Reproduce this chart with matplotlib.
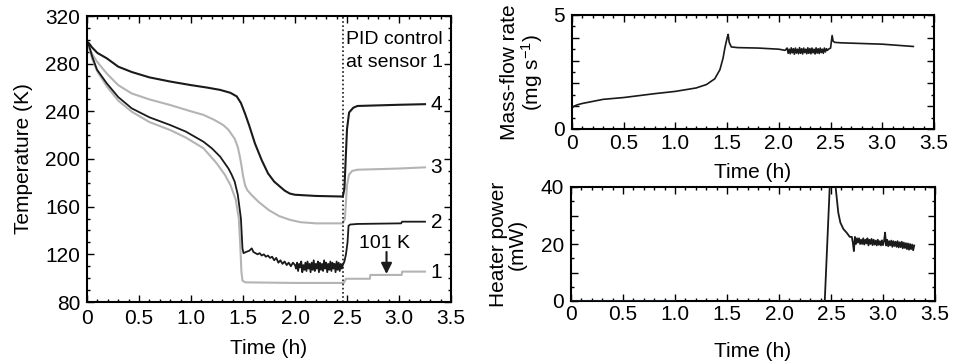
import matplotlib
matplotlib.use("Agg")
from matplotlib import pyplot as plt
from matplotlib.ticker import MultipleLocator, FuncFormatter

plt.rcParams['font.family'] = ['Liberation Sans', 'DejaVu Sans']
plt.rcParams['mathtext.default'] = 'regular'

# --- temperature curves (sensors 1..4), time in h, temperature in K ---
t4 = [0, 0.02, 0.05, 0.1, 0.19, 0.3, 0.43, 0.6, 0.8, 1.0, 1.15, 1.28, 1.38, 1.44,
      1.48, 1.52, 1.56, 1.615, 1.68, 1.74, 1.8, 1.84, 1.9, 1.95, 2.0, 2.2, 2.46,
      2.475, 2.49, 2.5, 2.52, 2.56, 2.6, 3.0, 3.25]
T4 = [298.5, 297, 293.5, 289, 284.5, 277.5, 273, 268.5, 265, 262, 260, 258, 255.5, 252.5,
      247, 238, 228, 213, 199, 188, 181, 178, 173.5, 171, 170, 169, 168.5,
      175, 205, 225, 239, 243, 244.5, 245.5, 246]

t3 = [0, 0.02, 0.05, 0.096, 0.19, 0.3, 0.43, 0.6, 0.8, 1.0, 1.12, 1.22, 1.31, 1.36,
      1.42, 1.45, 1.47, 1.49, 1.5, 1.52, 1.54, 1.58, 1.65, 1.75, 1.85, 1.95, 2.05,
      2.2, 2.46, 2.48, 2.5, 2.52, 2.55, 2.6, 3.0, 3.25]
T3 = [297, 294, 288, 281.7, 271.7, 262, 255, 250, 245.3, 240, 237, 233, 228.5, 224.5,
      217, 210, 202, 192, 186, 178, 174, 170, 164, 157, 152, 149, 147,
      146, 146, 150, 178, 187, 190, 191, 192, 193]

t2 = [0, 0.02, 0.05, 0.096, 0.19, 0.3, 0.43, 0.6, 0.8, 0.95, 1.12, 1.2, 1.28, 1.36,
      1.39, 1.42, 1.45, 1.48, 1.495, 1.505, 1.53, 1.56, 1.584, 1.60,
      1.62, 1.64, 1.66, 1.68, 1.70, 1.72, 1.74, 1.76, 1.78, 1.80, 1.82, 1.84, 1.86,
      1.88, 1.90, 1.92, 1.94, 1.96, 1.98,
      2.00, 2.01, 2.02, 2.03, 2.04, 2.05, 2.06, 2.07, 2.08, 2.09, 2.10, 2.11, 2.12,
      2.13, 2.14, 2.15, 2.16, 2.17, 2.18, 2.19, 2.20, 2.21, 2.22, 2.23, 2.24, 2.25,
      2.26, 2.27, 2.28, 2.29, 2.30, 2.31, 2.32, 2.33, 2.34, 2.35, 2.36, 2.37, 2.38,
      2.39, 2.40, 2.41, 2.42, 2.43, 2.44, 2.45, 2.46,
      2.475, 2.49, 2.505, 2.515, 2.53, 2.6, 3.02, 3.03, 3.25]
T2 = [298, 295, 286, 275, 263.5, 252, 242.5, 235, 228.5, 223, 214.5, 209, 202, 192,
      187, 181, 170, 150, 125, 121, 122, 123, 125, 122,
      121, 120, 121, 119, 120, 118, 119, 117, 118, 115, 117, 113, 115,
      112, 114, 111, 113, 110, 113,
      111, 108, 113, 106, 112, 109, 114, 105, 111, 107, 113, 106, 114,
      108, 112, 105, 113, 107, 115, 106, 112, 108, 114, 105, 113, 107,
      112, 106, 115, 108, 113, 105, 112, 107, 114, 106, 113, 108, 112,
      105, 114, 107, 113, 106, 112, 108, 111,
      114, 120, 130, 144, 145, 145.5, 146, 147.4, 147.4]

t1 = [0, 0.02, 0.05, 0.096, 0.19, 0.3, 0.43, 0.6, 0.8, 0.95, 1.12, 1.247, 1.327,
      1.38, 1.43, 1.46, 1.475, 1.485, 1.495, 1.52, 2.0, 2.47, 2.49, 2.72, 2.725,
      3.026, 3.03, 3.25]
T1 = [296, 293, 284, 274, 261, 249, 239.7, 231, 224.3, 218, 209, 196.4, 186.6,
      178, 166, 150, 125, 105, 98, 96.5, 96, 96, 99.5, 99.5, 102.7,
      102.7, 105.5, 105.5]

curve_labels = ['4', '3', '2', '1']
label_temps = [246, 193, 147, 105]

# --- mass-flow rate, mg/s ---
tm = [0, 0.02, 0.05, 0.1, 0.3, 0.5, 0.8, 1.0, 1.2, 1.3, 1.38, 1.43, 1.46, 1.48, 1.5,
      1.51, 1.52, 1.54, 1.6, 1.8, 2.0, 2.06,
      2.08, 2.09, 2.10, 2.11, 2.12, 2.13, 2.14, 2.15, 2.16, 2.17, 2.18, 2.19, 2.20,
      2.21, 2.22, 2.23, 2.24, 2.25, 2.26, 2.27, 2.28, 2.29, 2.30, 2.31, 2.32, 2.33,
      2.34, 2.35, 2.36, 2.37, 2.38, 2.39, 2.40, 2.41, 2.42, 2.43, 2.44, 2.45, 2.46,
      2.47, 2.48,
      2.5, 2.515, 2.525, 2.54, 2.6, 3.0, 3.3]
mf = [0.92, 1.0, 1.06, 1.12, 1.3, 1.38, 1.55, 1.65, 1.8, 1.95, 2.2, 2.6, 3.1, 3.6, 4.0,
      4.15, 3.8, 3.6, 3.57, 3.55, 3.5, 3.45,
      3.55, 3.32, 3.5, 3.3, 3.56, 3.34, 3.52, 3.28, 3.55, 3.33, 3.5, 3.3, 3.57,
      3.32, 3.52, 3.29, 3.55, 3.35, 3.5, 3.3, 3.56, 3.32, 3.53, 3.3, 3.55, 3.34,
      3.5, 3.29, 3.56, 3.33, 3.52, 3.31, 3.55, 3.35, 3.5, 3.32, 3.55, 3.38, 3.52,
      3.45, 3.5,
      3.55, 4.1, 3.85, 3.8, 3.78, 3.72, 3.62]

# --- heater power, mW ---
th_off = [0, 1.0]
hp_off = [0, 0]
th = [2.0, 2.44, 2.49, 2.53, 2.55, 2.57, 2.59, 2.62, 2.65, 2.68,
      2.70, 2.71, 2.72, 2.73, 2.74, 2.75, 2.76, 2.77, 2.78, 2.79, 2.80, 2.81, 2.82,
      2.83, 2.84, 2.85, 2.86, 2.87, 2.88, 2.89, 2.90, 2.91, 2.92, 2.93, 2.94, 2.95,
      2.96, 2.97, 2.98, 2.99, 3.00, 3.01, 3.02, 3.03, 3.04, 3.05, 3.06, 3.07, 3.08,
      3.09, 3.10, 3.11, 3.12, 3.13, 3.14, 3.15, 3.16, 3.17, 3.18, 3.19, 3.20, 3.21,
      3.22, 3.23, 3.24, 3.25, 3.26, 3.27, 3.28, 3.29, 3.30]
hp = [0, 0, 42, 45, 38, 31, 27.5, 25.2, 24, 22.5,
      22.5, 20.5, 17.5, 22.5, 20, 22, 20.5, 22, 20, 21.5, 20, 22, 19.8,
      21.5, 20.2, 22, 19.5, 21.5, 20, 21.8, 19.6, 21.5, 19.8, 21.2, 19.5, 21.5,
      19.7, 21, 19.5, 21.3, 19.6, 21, 24, 19.5, 21.5, 19.2, 21, 19.5, 21.2,
      19, 21, 19.3, 20.8, 19, 21, 18.8, 20.6, 18.9, 20.8, 18.5, 20.5, 18.6,
      20.3, 18.2, 20.2, 18, 20, 18.2, 19.8, 17.8, 19.5]

black = '#1a1a1a'
gray = '#b4b4b4'
FS = 15

W, H = 955, 364
fig = plt.figure(figsize=(W / 100, H / 100), dpi=100)


def box(l, t, r, b):
    return [l / W, (H - b) / H, (r - l) / W, (b - t) / H]


def style(ax, xpad=5):
    ax.tick_params(which='both', direction='in', top=True, right=True,
                   labelsize=FS, width=1.0, pad=5)
    ax.tick_params(axis='x', pad=xpad)
    ax.tick_params(which='major', length=5)
    ax.tick_params(which='minor', length=2.5)
    for s in ax.spines.values():
        s.set_linewidth(1.5)
    ax.xaxis.set_major_locator(MultipleLocator(0.5))
    ax.xaxis.set_minor_locator(MultipleLocator(0.1))
    ax.xaxis.set_major_formatter(FuncFormatter(lambda v, p: '0' if v == 0 else f'{v:.1f}'))
    ax.set_xlim(0, 3.5)


# left: temperatures
ax = fig.add_axes(box(87, 16, 451, 302))
style(ax)
ax.plot(t1, T1, color=gray, lw=1.5)
ax.plot(t3, T3, color=gray, lw=1.5)
ax.plot(t2, T2, color=black, lw=1.3)
ax.plot(t4, T4, color=black, lw=1.5)
ax.axvline(2.46, color=black, lw=1.2, ls=(0, (1, 1.5)))
ax.set_ylim(80, 320)
ax.yaxis.set_major_locator(MultipleLocator(40))
ax.yaxis.set_minor_locator(MultipleLocator(10))
ax.set_xlabel('Time (h)', fontsize=FS, labelpad=8)
ax.set_ylabel('Temperature (K)', fontsize=FS, labelpad=9)
for lab, yv in zip(curve_labels, label_temps):
    ax.text(3.36, yv, lab, fontsize=FS, ha='center', va='center')
ax.text(3.42, 300, 'PID control', fontsize=FS - 1, ha='right', va='center')
ax.text(3.42, 281, 'at sensor 1', fontsize=FS - 1, ha='right', va='center')
ax.text(2.865, 129, '101 K', fontsize=FS - 1, ha='center', va='center')
ax.annotate('', xy=(2.88, 103.5), xytext=(2.88, 122),
            arrowprops=dict(arrowstyle='-|>', color=black, lw=1.5,
                            shrinkA=0, shrinkB=0, mutation_scale=16))

# top right: mass-flow rate
ax2 = fig.add_axes(box(572, 15, 934, 129))
style(ax2, xpad=3.5)
ax2.plot(tm, mf, color=black, lw=1.2)
ax2.set_ylim(0, 5)
ax2.yaxis.set_major_locator(MultipleLocator(1))
ax2.yaxis.set_minor_locator(MultipleLocator(0.5))
ax2.yaxis.set_major_formatter(FuncFormatter(lambda v, p: f'{v:.0f}' if v in (0, 5) else ''))
ax2.set_xlabel('Time (h)', fontsize=FS, labelpad=7)
ax2.set_ylabel('Mass-flow rate\n(mg s$^{-1}$)', fontsize=FS, labelpad=6, linespacing=1.0)

# bottom right: heater power
ax3 = fig.add_axes(box(571, 187, 935, 301))
style(ax3, xpad=3)
ax3.plot(th_off, hp_off, color='#7080b8', lw=1.0, zorder=3)
ax3.plot(th, hp, color=black, lw=1.3, zorder=3)
ax3.set_ylim(0, 40)
ax3.yaxis.set_major_locator(MultipleLocator(10))
ax3.yaxis.set_minor_locator(MultipleLocator(5))
ax3.yaxis.set_major_formatter(FuncFormatter(lambda v, p: f'{v:.0f}' if v in (0, 20, 40) else ''))
ax3.set_xlabel('Time (h)', fontsize=FS, labelpad=13)
ax3.set_ylabel('Heater power\n(mW)', fontsize=FS, labelpad=10, linespacing=1.0)

fig.savefig('out.png', dpi=100)
